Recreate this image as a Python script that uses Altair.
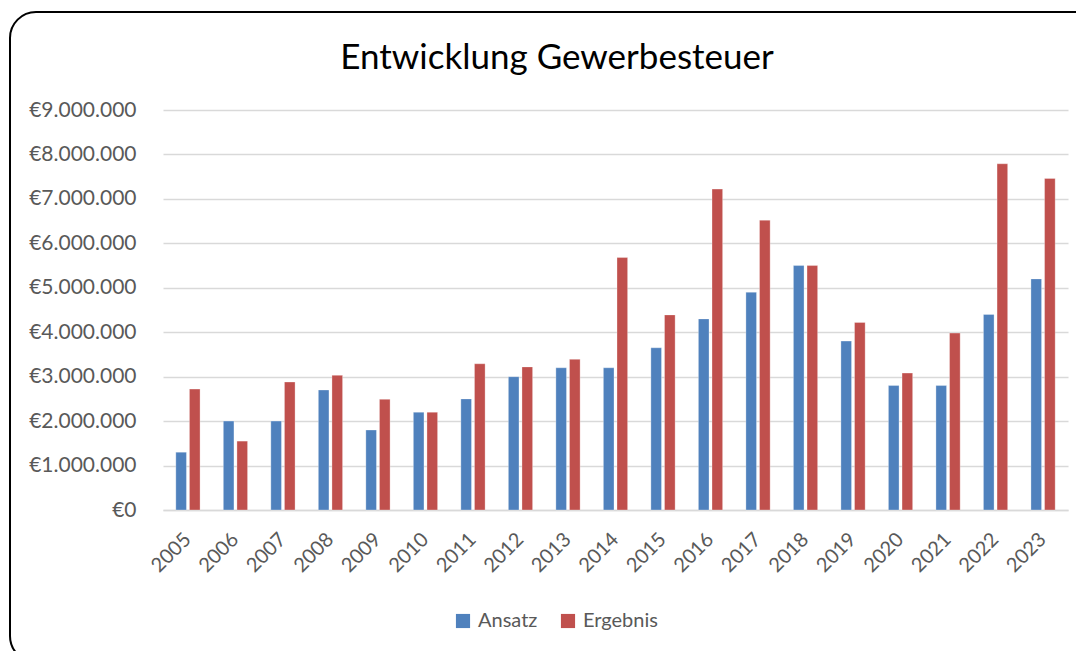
import altair as alt
import pandas as pd

years = [str(y) for y in range(2005, 2024)]
ansatz = [1300000, 2000000, 2000000, 2700000, 1800000, 2200000, 2500000, 3000000, 3200000, 3200000,
          3650000, 4300000, 4900000, 5500000, 3800000, 2800000, 2800000, 4400000, 5200000]
ergebnis = [2720000, 1550000, 2880000, 3030000, 2490000, 2200000, 3290000, 3220000, 3390000, 5680000,
            4390000, 7220000, 6520000, 5500000, 4220000, 3080000, 3980000, 7790000, 7460000]
series = ["Ansatz", "Ergebnis"]
colors = ["#4F81BD", "#C0504D"]
title_text = "Entwicklung Gewerbesteuer"

rows = []
for i, y in enumerate(years):
    rows.append({"Jahr": y, "Serie": series[0], "Wert": ansatz[i]})
    rows.append({"Jahr": y, "Serie": series[1], "Wert": ergebnis[i]})
df = pd.DataFrame(rows)

FONT = "Lato"
GRAY = "#595959"

bars = alt.Chart(df).mark_bar(stroke="white", strokeWidth=0.6, strokeOpacity=0.5).encode(
    x=alt.X("Jahr:N", sort=years, title=None,
            scale=alt.Scale(paddingInner=0.49, paddingOuter=0.27),
            axis=alt.Axis(labelAngle=-45, labelAlign="right", labelBaseline="middle",
                          labelFontSize=20, labelColor=GRAY, labelFont=FONT, labelPadding=26,
                          ticks=False, domainColor="#D9D9D9", domainWidth=1.5, grid=False)),
    xOffset=alt.XOffset("Serie:N", sort=series,
                        scale=alt.Scale(paddingInner=0.22, paddingOuter=0)),
    y=alt.Y("Wert:Q", title=None,
            scale=alt.Scale(domain=[0, 9000000], nice=False),
            axis=alt.Axis(values=list(range(0, 9000001, 1000000)),
                          labelExpr="'€' + replace(format(datum.value, ','), regexp(',', 'g'), '.')",
                          labelFontSize=21, labelColor=GRAY, labelFont=FONT, labelPadding=27,
                          ticks=False, domain=False, gridColor="#D9D9D9", gridWidth=1.5)),
    color=alt.Color("Serie:N", sort=series, title=None,
                    scale=alt.Scale(domain=series, range=colors),
                    legend=alt.Legend(orient="none", legendX=290, legendY=501, direction="horizontal",
                                      symbolType="square", symbolSize=200, symbolStrokeWidth=0,
                                      labelFontSize=20, labelColor=GRAY, labelFont=FONT,
                                      columnPadding=20, labelOffset=5)),
)

frame = alt.Chart(pd.DataFrame({"k": [0]})).mark_rect(
    fill=None, stroke="black", strokeWidth=2, cornerRadius=26
).encode(x=alt.value(-153), x2=alt.value(939), y=alt.value(-98), y2=alt.value(552))

title = alt.Chart(pd.DataFrame({"t": [title_text]})).mark_text(
    font=FONT, fontSize=35, color="black", align="center", baseline="alphabetic"
).encode(text="t:N", x=alt.value(394), y=alt.value(-41))

chart = alt.layer(frame, title, bars).properties(
    width=905, height=400,
    padding={"left": 155, "top": 102, "right": 8, "bottom": 141},
    autosize=alt.AutoSizeParams(type="none"),
).configure_view(stroke=None)

chart.save("out.html", embed_options={"renderer": "svg", "actions": False})
